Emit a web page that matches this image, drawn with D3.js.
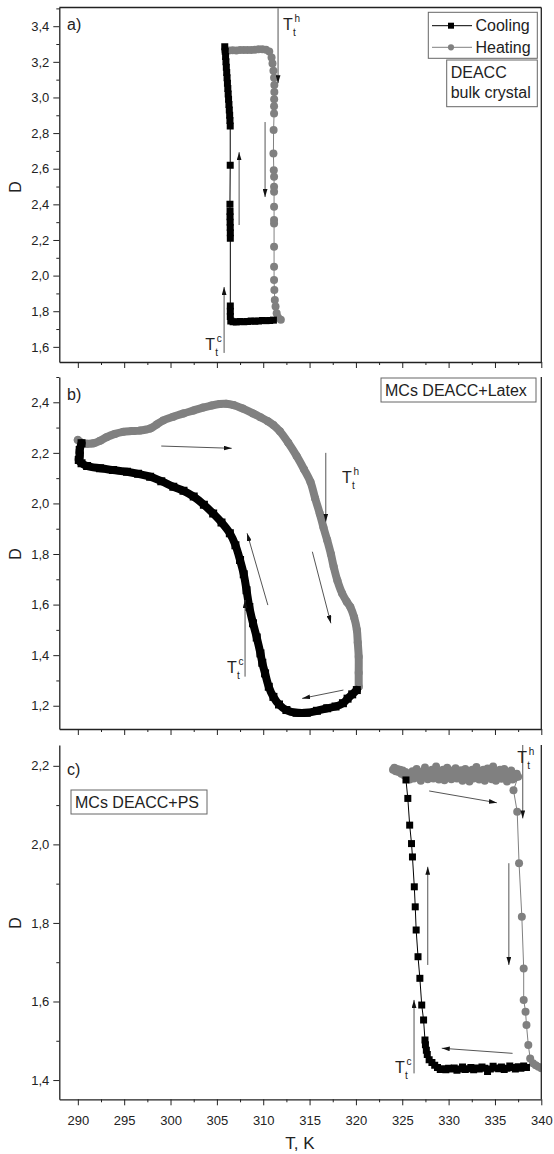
<!DOCTYPE html>
<html>
<head>
<meta charset="utf-8">
<script src="https://cdnjs.cloudflare.com/ajax/libs/d3/7.8.5/d3.min.js"></script>
<style>
  body { margin: 0; background: #fff; }
  svg { font-family: "Liberation Sans", Arial, sans-serif; }
</style>
</head>
<body>
<div id="chart"></div>
<script>
// temperature ticks (K)
const tTicks = [290, 295, 300, 305, 310, 315, 320, 325, 330, 335, 340]
const tMinor = [292.5, 297.5, 302.5, 307.5, 312.5, 317.5, 322.5, 327.5, 332.5, 337.5]

// D ticks per panel
const dTicksA = [1.6, 1.8, 2.0, 2.2, 2.4, 2.6, 2.8, 3.0, 3.2, 3.4]
const dMinorA = [1.7, 1.9, 2.1, 2.3, 2.5, 2.7, 2.9, 3.1, 3.3, 3.5]
const dTicksB = [1.2, 1.4, 1.6, 1.8, 2.0, 2.2, 2.4]
const dMinorB = [1.3, 1.5, 1.7, 1.9, 2.1, 2.3, 2.5]
const dTicksC = [1.4, 1.6, 1.8, 2.0, 2.2]
const dMinorC = [1.5, 1.7, 1.9, 2.1]

// a) DEACC bulk crystal  [T, D]
const coolA = [
  [311.1, 1.750], [310.7, 1.748], [310.3, 1.747], [309.9, 1.748], [309.5, 1.745], [309.1, 1.744],
  [308.7, 1.745], [308.3, 1.742], [307.9, 1.741], [307.5, 1.742], [307.1, 1.740], [306.75, 1.741],
  [306.5, 1.745], [306.45, 1.77], [306.45, 1.80], [306.45, 1.83],
  [306.45, 2.21], [306.45, 2.24], [306.44, 2.27], [306.43, 2.30], [306.42, 2.33], [306.42, 2.36], [306.41, 2.40],
  [306.44, 2.62],
  [306.44, 2.84], [306.41, 2.87], [306.38, 2.90], [306.34, 2.93], [306.3, 2.96], [306.26, 2.99],
  [306.22, 3.02], [306.18, 3.05], [306.14, 3.08], [306.1, 3.11], [306.06, 3.14], [306.02, 3.17],
  [305.98, 3.20], [305.94, 3.23], [305.9, 3.26], [305.85, 3.285]
]
const heatA = [
  [305.9, 3.262], [306.3, 3.264], [306.7, 3.265], [307.1, 3.264], [307.5, 3.266], [307.9, 3.267],
  [308.3, 3.266], [308.7, 3.267], [309.1, 3.268], [309.5, 3.270], [309.9, 3.270], [310.3, 3.268],
  [310.65, 3.258], [310.9, 3.225], [311.0, 3.19], [311.1, 3.15], [311.17, 3.11], [311.2, 3.07],
  [311.2, 3.03], [311.18, 2.99], [311.17, 2.95], [311.17, 2.91],
  [311.12, 2.817], [311.1, 2.686], [311.14, 2.592], [311.17, 2.555], [311.17, 2.499], [311.17, 2.471],
  [311.17, 2.387], [311.17, 2.312], [311.17, 2.293], [311.17, 2.162], [311.17, 2.050], [311.17, 1.975],
  [311.2, 1.919], [311.25, 1.863], [311.33, 1.826], [311.45, 1.789], [311.6, 1.765], [311.9, 1.752]
]

// b) MCs DEACC+Latex
const heatB = [
  [290.0, 2.251], [290.4, 2.240], [291.0, 2.236], [291.7, 2.238], [292.4, 2.248], [293.1, 2.262],
  [294.0, 2.275], [294.9, 2.283], [295.8, 2.286], [296.7, 2.288], [297.8, 2.296], [298.5, 2.312],
  [299.2, 2.328], [300.3, 2.343], [301.4, 2.356], [302.5, 2.368], [303.5, 2.379], [304.4, 2.387],
  [305.3, 2.393], [306.0, 2.394], [306.8, 2.389], [307.8, 2.375], [308.9, 2.356], [309.7, 2.341],
  [310.5, 2.325], [311.1, 2.310], [311.8, 2.285], [312.7, 2.240], [313.6, 2.188], [314.4, 2.135],
  [315.1, 2.085], [315.6, 2.020], [316.1, 1.960], [316.5, 1.905], [316.9, 1.855], [317.3, 1.800],
  [317.6, 1.750], [318.0, 1.695], [318.5, 1.645], [319.0, 1.612], [319.4, 1.590], [319.8, 1.550],
  [320.1, 1.500], [320.2, 1.450], [320.3, 1.394], [320.3, 1.330], [320.3, 1.275]
]
const coolB = [
  [320.1, 1.262], [319.6, 1.245], [319.1, 1.228], [318.6, 1.210], [317.8, 1.197], [316.9, 1.190],
  [315.8, 1.180], [314.7, 1.172], [313.6, 1.172], [312.5, 1.183], [311.7, 1.205], [311.1, 1.235],
  [310.6, 1.275], [310.2, 1.328], [309.9, 1.370], [309.7, 1.407], [309.3, 1.470], [308.9, 1.526],
  [308.5, 1.590], [308.2, 1.657], [307.9, 1.720], [307.5, 1.776], [307.0, 1.835], [306.4, 1.882],
  [305.5, 1.925], [304.6, 1.960], [303.6, 1.995], [302.5, 2.027], [301.4, 2.050], [300.3, 2.066],
  [299.0, 2.088], [297.8, 2.106], [296.5, 2.117], [295.3, 2.125], [293.8, 2.132], [292.4, 2.139],
  [291.0, 2.148], [290.4, 2.159], [290.1, 2.172], [290.2, 2.190], [290.2, 2.211], [290.4, 2.238]
]

// c) MCs DEACC+PS
const heatC = [
  [324.0, 2.190], [324.15, 2.195], [324.3, 2.186], [324.45, 2.192], [324.6, 2.184], [324.75, 2.190],
  [324.9, 2.180], [325.05, 2.188], [325.2, 2.176], [325.35, 2.184], [325.5, 2.170], [325.65, 2.180],
  [325.8, 2.165], [325.95, 2.178], [326.1, 2.186], [326.25, 2.168], [326.4, 2.175], [326.55, 2.192],
  [326.7, 2.170], [326.85, 2.180], [327.0, 2.162], [327.15, 2.185], [327.3, 2.172], [327.45, 2.196],
  [327.6, 2.178], [327.75, 2.166], [327.9, 2.184], [328.05, 2.174], [328.2, 2.190], [328.35, 2.168],
  [328.5, 2.182], [328.65, 2.198], [328.8, 2.176], [328.95, 2.165], [329.1, 2.185], [329.25, 2.172],
  [329.4, 2.190], [329.55, 2.163], [329.7, 2.178], [329.85, 2.195], [330.0, 2.170], [330.15, 2.182],
  [330.3, 2.166], [330.45, 2.188], [330.6, 2.175], [330.75, 2.194], [330.9, 2.168], [331.05, 2.180],
  [331.2, 2.172], [331.35, 2.189], [331.5, 2.162], [331.65, 2.178], [331.8, 2.192], [331.95, 2.170],
  [332.1, 2.183], [332.25, 2.160], [332.4, 2.176], [332.55, 2.190], [332.7, 2.168], [332.85, 2.181],
  [333.0, 2.197], [333.15, 2.172], [333.3, 2.165], [333.45, 2.186], [333.6, 2.174], [333.75, 2.190],
  [333.9, 2.162], [334.05, 2.180], [334.2, 2.193], [334.35, 2.170], [334.5, 2.184], [334.65, 2.166],
  [334.8, 2.198], [334.95, 2.175], [335.1, 2.162], [335.25, 2.186], [335.4, 2.172], [335.55, 2.190],
  [335.7, 2.167], [335.85, 2.180], [336.0, 2.192], [336.15, 2.170], [336.3, 2.160], [336.45, 2.182],
  [336.6, 2.174], [336.75, 2.188], [336.9, 2.165], [337.05, 2.178], [337.2, 2.170], [337.35, 2.180],
  [337.5, 2.172],
  [337.0, 2.138], [337.4, 2.083], [337.6, 1.952], [337.9, 1.816], [338.1, 1.684], [338.1, 1.604],
  [338.3, 1.574], [338.4, 1.540], [338.6, 1.489], [338.8, 1.455], [339.1, 1.443], [339.4, 1.438],
  [339.7, 1.434], [340.0, 1.430]
]
const coolC = [
  [338.4, 1.432], [338.1, 1.436], [337.8, 1.430], [337.5, 1.434], [337.2, 1.428], [336.9, 1.432],
  [336.6, 1.436], [336.3, 1.430], [336.0, 1.427], [335.7, 1.433], [335.4, 1.429], [335.1, 1.431],
  [334.8, 1.435], [334.5, 1.428], [334.2, 1.422], [333.9, 1.430], [333.6, 1.433], [333.3, 1.428],
  [333.0, 1.431], [332.7, 1.426], [332.4, 1.432], [332.1, 1.429], [331.8, 1.427], [331.5, 1.433],
  [331.2, 1.428], [330.9, 1.425], [330.6, 1.431], [330.3, 1.428], [330.0, 1.430], [329.7, 1.426],
  [329.4, 1.429], [329.1, 1.427], [328.8, 1.432], [328.5, 1.438], [328.2, 1.445], [327.9, 1.452],
  [327.7, 1.465], [327.6, 1.476], [327.5, 1.490], [327.45, 1.502],
  [327.3, 1.553], [327.1, 1.591], [326.9, 1.659], [326.7, 1.714], [326.5, 1.782], [326.4, 1.841],
  [326.3, 1.892], [326.1, 1.968], [326.0, 2.002], [325.8, 2.049], [325.6, 2.117], [325.4, 2.164]
]

// arrows [T1, D1, T2, D2] (head at second point)
const arrowsA = [[311.6, 3.50, 311.6, 3.08], [305.78, 1.566, 305.78, 1.936], [307.4, 2.284, 307.4, 2.693], [310.2, 2.862, 310.2, 2.441]]
const arrowsB = [[299.0, 2.227, 306.6, 2.218], [310.5, 1.598, 308.26, 1.882], [308.04, 1.315, 308.04, 1.618],
  [316.75, 2.2, 316.75, 1.928], [315.3, 1.809, 317.3, 1.526], [318.65, 1.262, 314.2, 1.229]]
const arrowsC = [[327.9, 2.136, 335.2, 2.106], [338.0, 2.253, 338.0, 2.066], [327.75, 1.693, 327.75, 1.943],
  [336.5, 1.952, 336.5, 1.693], [326.27, 1.417, 326.27, 1.604], [336.9, 1.468, 329.26, 1.481]]

// T_t labels [T, D, superscript]
const tLabelsA = [[312.14, 3.378, 'h'], [303.74, 1.583, 'c']]
const tLabelsB = [[318.5, 2.08, 'h'], [306.1, 1.33, 'c']]
const tLabelsC = [[337.4, 2.207, 'h'], [324.23, 1.418, 'c']]

const width = 554; const height = 1154
const left = 59.3; const right = 541.3
const grey = '#808080'

const panels = [
  { name: 'a)', top: 7.5, bottom: 362, domain: [1.515, 3.505], ticks: dTicksA, minor: dMinorA,
    cool: coolA, heat: heatA, arrows: arrowsA, tLabels: tLabelsA, thick: false, sq: 7, dot: 8,
    labelY: 30, dY: 187, topLine: true,
    boxes: [{ x: 446.7, y: 60, w: 90.6, h: 46.7, lines: ['DEACC', 'bulk crystal'] }] },
  { name: 'b)', top: 377, bottom: 729, domain: [1.108, 2.5], ticks: dTicksB, minor: dMinorB,
    cool: coolB, heat: heatB, arrows: arrowsB, tLabels: tLabelsB, thick: true, sq: 8, dot: 8,
    labelY: 400, dY: 554, topLine: false,
    boxes: [{ x: 381, y: 378, w: 155, h: 24, lines: ['MCs DEACC+Latex'] }] },
  { name: 'c)', top: 745, bottom: 1099.3, domain: [1.351, 2.253], ticks: dTicksC, minor: dMinorC,
    cool: coolC, heat: heatC, arrows: arrowsC, tLabels: tLabelsC, thick: false, sq: 7, dot: 8,
    labelY: 775, dY: 923, topLine: false,
    boxes: [{ x: 71, y: 790, w: 136, h: 24, lines: ['MCs DEACC+PS'] }] }
]

const x = d3.scaleLinear().domain([288, 340]).range([left, right])
const fmt = d => d3.format('.1f')(d).replace('.', ',')

const svg = d3.select('#chart').append('svg')
  .attr('width', width).attr('height', height)

const defs = svg.append('defs')
defs.append('marker')
  .attr('id', 'head')
  .attr('viewBox', '0 0 10 6')
  .attr('refX', 10).attr('refY', 3)
  .attr('markerWidth', 8).attr('markerHeight', 5)
  .attr('markerUnits', 'userSpaceOnUse')
  .attr('orient', 'auto')
  .append('path').attr('d', 'M0,0L10,3L0,6Z').attr('fill', '#111')

panels.forEach((p, i) => {
  const y = d3.scaleLinear().domain(p.domain).range([p.bottom, p.top])
  const g = svg.append('g')

  defs.append('clipPath').attr('id', 'clip' + i)
    .append('rect').attr('x', left).attr('y', p.top)
    .attr('width', right - left).attr('height', p.bottom - p.top)

  // data
  const plot = g.append('g').attr('clip-path', 'url(#clip' + i + ')')
  const line = d3.line().x(d => x(d[0])).y(d => y(d[1]))
  if (p.thick) line.curve(d3.curveCatmullRom)

  const series = [
    { data: p.heat, color: grey, shape: d3.symbolCircle, area: Math.PI * p.dot * p.dot / 4 },
    { data: p.cool, color: '#000', shape: d3.symbolSquare, area: p.sq * p.sq }
  ]
  series.forEach(s => {
    plot.append('path')
      .attr('d', line(s.data))
      .attr('fill', 'none')
      .attr('stroke', s.color)
      .attr('stroke-width', p.thick ? 8 : 1)
      .attr('stroke-linejoin', 'round')
      .attr('stroke-linecap', 'round')
    plot.selectAll(null)
      .data(s.data)
      .enter().append('path')
      .attr('d', d3.symbol(s.shape, s.area))
      .attr('transform', d => 'translate(' + x(d[0]) + ',' + y(d[1]) + ')')
      .attr('fill', s.color)
  })

  // arrows
  g.selectAll(null)
    .data(p.arrows)
    .enter().append('line')
    .attr('x1', d => x(d[0])).attr('y1', d => y(d[1]))
    .attr('x2', d => x(d[2])).attr('y2', d => y(d[3]))
    .attr('stroke', '#555').attr('stroke-width', 1)
    .attr('marker-end', 'url(#head)')

  // T_t labels
  p.tLabels.forEach(t => {
    const px = x(t[0]); const py = y(t[1])
    g.append('text').attr('x', px).attr('y', py).style('font-size', '16px').attr('fill', '#222').text('T')
    g.append('text').attr('x', px + 11.5).attr('y', py - 8).style('font-size', '10px').attr('fill', '#222').text(t[2])
    g.append('text').attr('x', px + 10).attr('y', py + 6).style('font-size', '10px').attr('fill', '#222').text('t')
  })

  // frame
  g.append('line').attr('x1', right).attr('x2', right).attr('y1', p.top).attr('y2', p.bottom)
    .attr('stroke', '#222').attr('stroke-width', 1.3)
  if (p.topLine) {
    g.append('line').attr('x1', left).attr('x2', right).attr('y1', p.top).attr('y2', p.top)
      .attr('stroke', '#222').attr('stroke-width', 1.3)
  }

  // left axis
  const yAxis = g.append('g').attr('transform', 'translate(' + left + ',0)')
    .call(d3.axisLeft(y).tickValues(p.ticks).tickSize(6).tickSizeOuter(0).tickPadding(4).tickFormat(fmt))
  g.append('g').attr('transform', 'translate(' + left + ',0)')
    .call(d3.axisLeft(y).tickValues(p.minor).tickSize(3).tickFormat(''))
    .call(a => a.select('.domain').remove())
    .selectAll('line').attr('stroke', '#222')
  yAxis.select('.domain').attr('stroke', '#222').attr('stroke-width', 1.3)
  yAxis.selectAll('line').attr('stroke', '#222')
  yAxis.selectAll('text').style('font-size', '13px').style('font-family', '"Liberation Sans", Arial, sans-serif').attr('fill', '#222')

  // bottom axis
  const xAxis = g.append('g').attr('transform', 'translate(0,' + p.bottom + ')')
    .call(d3.axisBottom(x).tickValues(tTicks).tickSize(6).tickSizeOuter(0).tickPadding(10)
      .tickFormat(i === panels.length - 1 ? d3.format('d') : ''))
  g.append('g').attr('transform', 'translate(0,' + p.bottom + ')')
    .call(d3.axisBottom(x).tickValues(tMinor).tickSize(3).tickFormat(''))
    .call(a => a.select('.domain').remove())
    .selectAll('line').attr('stroke', '#222')
  xAxis.select('.domain').attr('stroke', '#222').attr('stroke-width', 1.3)
  xAxis.selectAll('line').attr('stroke', '#222')
  xAxis.selectAll('text').style('font-size', '13px').style('font-family', '"Liberation Sans", Arial, sans-serif').attr('fill', '#222')

  // panel letter and y title
  g.append('text').attr('x', 67).attr('y', p.labelY).style('font-size', '16px').attr('fill', '#222').text(p.name)
  g.append('text')
    .attr('transform', 'translate(21,' + p.dY + ') rotate(-90)')
    .attr('text-anchor', 'middle')
    .style('font-size', '16px').attr('fill', '#222')
    .text('D')

  // text boxes
  p.boxes.forEach(b => {
    g.append('rect').attr('x', b.x).attr('y', b.y).attr('width', b.w).attr('height', b.h)
      .attr('fill', '#fff').attr('stroke', '#666').attr('stroke-width', 1)
    b.lines.forEach((l, k) => {
      g.append('text').attr('x', b.x + 4).attr('y', b.y + 18 + k * 19.5)
        .style('font-size', '16px').attr('fill', '#222').text(l)
    })
  })
})

// legend for panel a
const legend = svg.append('g')
legend.append('rect').attr('x', 428.3).attr('y', 12.3).attr('width', 109).attr('height', 46)
  .attr('fill', '#fff').attr('stroke', '#666').attr('stroke-width', 1)
const legendItems = [
  { label: 'Cooling', color: '#000', shape: d3.symbolSquare, area: 36 },
  { label: 'Heating', color: grey, shape: d3.symbolCircle, area: 30 }
]
legendItems.forEach((it, k) => {
  const ly = 25.7 + k * 21.6
  legend.append('line').attr('x1', 432).attr('x2', 472).attr('y1', ly).attr('y2', ly)
    .attr('stroke', it.color).attr('stroke-width', 1)
  legend.append('path').attr('d', d3.symbol(it.shape, it.area))
    .attr('transform', 'translate(451,' + ly + ')').attr('fill', it.color)
  legend.append('text').attr('x', 475.5).attr('y', ly + 5.5)
    .style('font-size', '16px').attr('fill', '#222').text(it.label)
})

// x title
svg.append('text')
  .attr('x', 300).attr('y', 1149)
  .attr('text-anchor', 'middle')
  .style('font-size', '17px').attr('fill', '#222')
  .text('T, K')
</script>
</body>
</html>
